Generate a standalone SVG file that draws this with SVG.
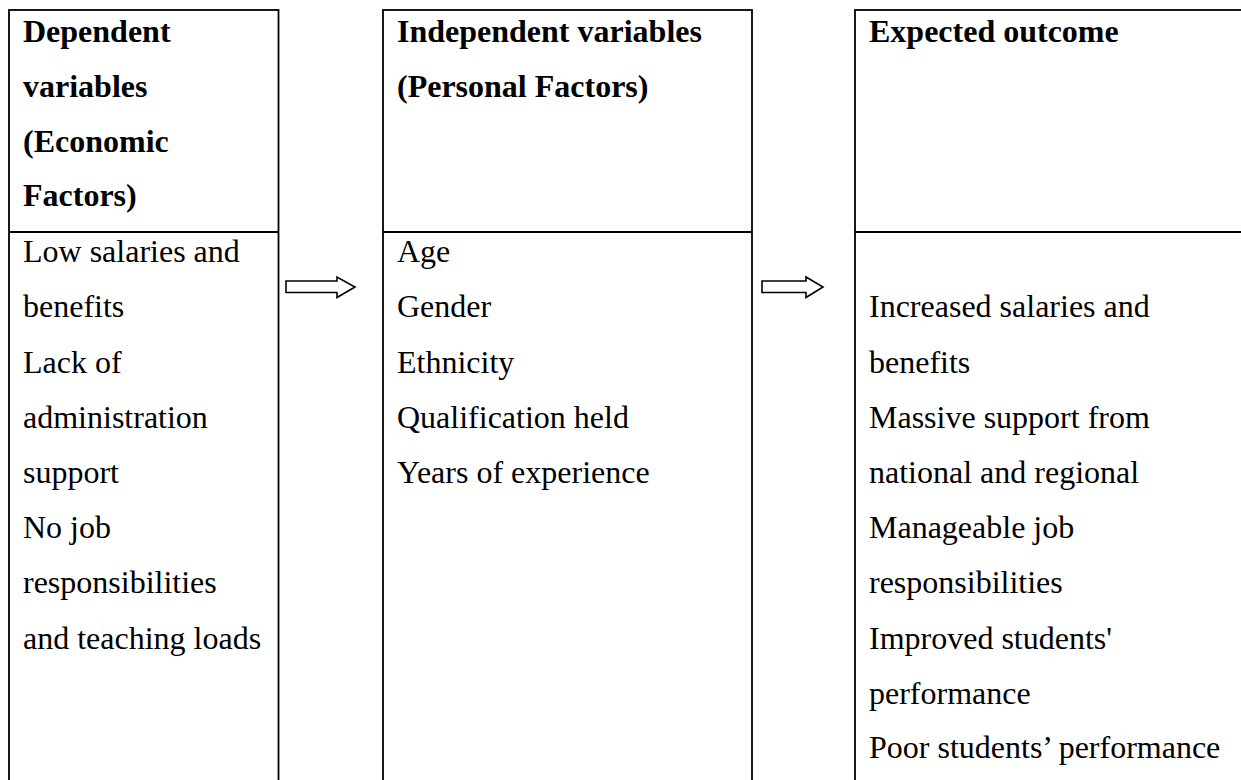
<svg xmlns="http://www.w3.org/2000/svg" width="1241" height="780" viewBox="0 0 1241 780">
<style>
.box{fill:none;stroke:#000;stroke-width:1.8}
.hd{font-family:"Liberation Serif","Times New Roman",serif;font-size:32px;font-weight:bold;fill:#000}
.tx{font-family:"Liberation Serif","Times New Roman",serif;font-size:32px;fill:#000}
.arr{fill:#fff;stroke:#000;stroke-width:1.6;stroke-linejoin:miter}
</style>
<rect x="0" y="0" width="1241" height="780" fill="#fff"/>
<g id="node-dependent">
<rect class="box" x="9" y="10" width="269.5" height="790"/>
<line class="box" x1="9" y1="232" x2="278.5" y2="232"/>
<text class="hd"><tspan x="23" y="42">Dependent</tspan><tspan x="23" y="97">variables</tspan><tspan x="23" y="152">(Economic</tspan><tspan x="23" y="206">Factors)</tspan></text>
<text class="tx"><tspan x="23" y="262">Low salaries and</tspan><tspan x="23" y="317">benefits</tspan><tspan x="23" y="372.5">Lack of</tspan><tspan x="23" y="428">administration</tspan><tspan x="23" y="483">support</tspan><tspan x="23" y="538">No job</tspan><tspan x="23" y="593">responsibilities</tspan><tspan x="23" y="648.5">and teaching loads</tspan></text>
</g>
<g id="node-independent">
<rect class="box" x="383" y="10" width="369" height="790"/>
<line class="box" x1="383" y1="232" x2="752" y2="232"/>
<text class="hd"><tspan x="397" y="42">Independent variables</tspan><tspan x="397" y="97">(Personal Factors)</tspan></text>
<text class="tx"><tspan x="397" y="262">Age</tspan><tspan x="397" y="317">Gender</tspan><tspan x="397" y="372.5">Ethnicity</tspan><tspan x="397" y="428">Qualification held</tspan><tspan x="397" y="483">Years of experience</tspan></text>
</g>
<g id="node-outcome">
<rect class="box" x="855" y="10" width="400" height="790"/>
<line class="box" x1="855" y1="232" x2="1255" y2="232"/>
<text class="hd"><tspan x="869" y="42">Expected outcome</tspan></text>
<text class="tx"><tspan x="869" y="317">Increased salaries and</tspan><tspan x="869" y="372.5">benefits</tspan><tspan x="869" y="428">Massive support from</tspan><tspan x="869" y="483">national and regional</tspan><tspan x="869" y="538">Manageable job</tspan><tspan x="869" y="593">responsibilities</tspan><tspan x="869" y="648.5">Improved students'</tspan><tspan x="869" y="704">performance</tspan><tspan x="869" y="758">Poor students’ performance</tspan></text>
</g>
<g id="connectors">
<path class="arr" d="M286,281 L337,281 L337,277 L355,287 L337,297.5 L337,292.5 L286,292.5 Z"/>
<path class="arr" d="M762,281 L806,281 L806,277 L823,287 L806,297.5 L806,292.5 L762,292.5 Z"/>
</g>
</svg>
